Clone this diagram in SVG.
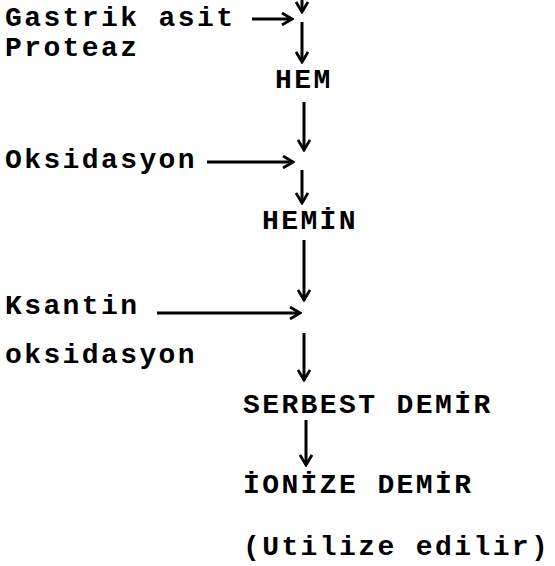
<svg xmlns="http://www.w3.org/2000/svg" width="555" height="566" viewBox="0 0 555 566">
<defs>
<style>
text{font-family:"Liberation Mono","Courier New",monospace;font-weight:bold;font-size:28px;letter-spacing:2.4px;fill:#000}
.c line{stroke:#000;stroke-width:3;fill:none;marker-end:url(#ah)}
</style>
<marker id="ah" markerWidth="14" markerHeight="14" viewBox="0 0 14 14" refX="12" refY="7" orient="auto" markerUnits="userSpaceOnUse">
<path d="M2,1 L12,7 L2,13" fill="none" stroke="#000" stroke-width="2.8"/>
</marker>
</defs>
<rect width="555" height="566" fill="#fff"/>
<g id="gastrik"><text x="5" y="26">Gastrik asit</text><text x="5" y="56">Proteaz</text></g>
<g id="hem"><text x="275" y="88">HEM</text></g>
<g id="oksidasyon"><text x="5" y="168">Oksidasyon</text></g>
<g id="hemin"><text x="262" y="229">HEMİN</text></g>
<g id="ksantin"><text x="5" y="314">Ksantin</text><text x="5" y="363">oksidasyon</text></g>
<g id="serbest"><text x="243" y="413">SERBEST DEMİR</text></g>
<g id="ionize"><text x="243" y="493">İONİZE DEMİR</text><text x="243" y="555">(Utilize edilir)</text></g>
<g class="c" id="connectors">
<line x1="302" y1="-10" x2="302" y2="12"/>
<line x1="252" y1="19" x2="292" y2="19"/>
<line x1="302" y1="22" x2="302" y2="62"/>
<line x1="304" y1="102" x2="304" y2="150"/>
<line x1="207" y1="162" x2="293" y2="162"/>
<line x1="302" y1="170" x2="302" y2="203"/>
<line x1="304" y1="240" x2="304" y2="300"/>
<line x1="157" y1="313" x2="300" y2="313"/>
<line x1="304" y1="333" x2="304" y2="380"/>
<line x1="306" y1="420" x2="306" y2="465"/>
</g>
</svg>
